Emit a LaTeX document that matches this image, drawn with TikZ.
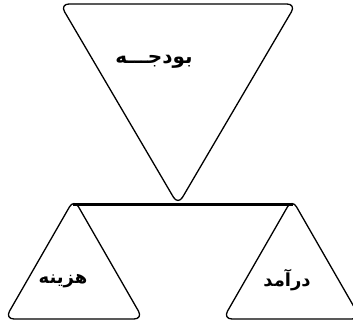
\documentclass[tikz,border=0pt]{standalone}
\usepackage{fontspec}
\newfontfamily\arabicfont[Script=Arabic]{DejaVu Sans}
\TeXXeTstate=1
\tikzset{
  tri/.style={line width=1.3pt, rounded corners=9pt, line join=round},
  beam/.style={line width=3pt},
  lbl/.style={font=\arabicfont\bfseries\fontsize{20}{24}\selectfont},
  sublbl/.style={font=\arabicfont\bfseries\fontsize{18}{22}\selectfont}
}
\begin{document}
\begin{tikzpicture}[x=1pt,y=-1pt]
      \clip (0,0) rectangle (353,323);
      % budget triangle, point down
      \coordinate (Bm) at (178,4); \coordinate (Bl) at (60,4);
      \coordinate (Bt) at (178,205); \coordinate (Br) at (296,4);
      \draw[tri] (Bm) -- (Br) -- (Bt) -- (Bl) -- cycle;
      \node[lbl] (budget) at (154,62) {\beginR بودجـــه\endR};
      % beam
      \coordinate (L) at (73,204); \coordinate (R) at (293,204);
      \draw[beam] (L) -- (R);
      % cost and income triangles
      \coordinate (Cm) at (74,319); \coordinate (Cl) at (5,319);
      \coordinate (Ct) at (74,199); \coordinate (Cr) at (143,319);
      \draw[tri] (Cm) -- (Cl) -- (Ct) -- (Cr) -- cycle;
      \coordinate (Im) at (292,319); \coordinate (Il) at (223,319);
      \coordinate (It) at (292,199); \coordinate (Ir) at (361,319);
      \draw[tri] (Im) -- (Il) -- (It) -- (Ir) -- cycle;
      \node[sublbl] (cost) at (63,281) {\beginR هزینه\endR};
      \node[sublbl] (income) at (287,280) {\beginR درآمد\endR};
    \end{tikzpicture}
\end{document}
